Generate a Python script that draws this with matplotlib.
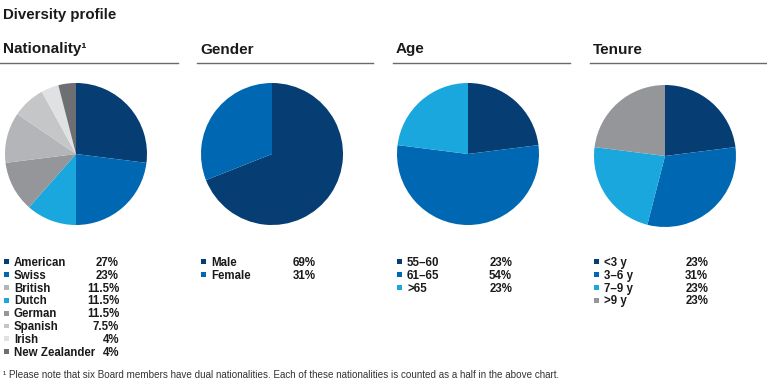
import matplotlib
matplotlib.use("Agg")
import matplotlib.pyplot as plt
from matplotlib.patches import Rectangle

plt.rcParams['font.family'] = ['Liberation Sans', 'DejaVu Sans']

# ---- data ----
nat_labels = ["American", "Swiss", "British", "Dutch", "German", "Spanish", "Irish", "New Zealander"]
nat_values = [27, 23, 11.5, 11.5, 11.5, 7.5, 4, 4]
nat_pct = ["27%", "23%", "11.5%", "11.5%", "11.5%", "7.5%", "4%", "4%"]
nat_pie_order = ["American", "Swiss", "Dutch", "German", "British", "Spanish", "Irish", "New Zealander"]

gen_labels = ["Male", "Female"]
gen_values = [69, 31]
gen_pct = ["69%", "31%"]

age_labels = ["55–60", "61–65", ">65"]
age_values = [23, 54, 23]
age_pct = ["23%", "54%", "23%"]

ten_labels = ["<3 y", "3–6 y", "7–9 y", ">9 y"]
ten_values = [23, 31, 23, 23]
ten_pct = ["23%", "31%", "23%", "23%"]

# ---- colours ----
NAVY = "#063d73"
BLUE = "#0068b2"
LIGHT = "#1aa7dd"
nat_colors = {"American": NAVY, "Swiss": BLUE, "British": "#b3b5b8", "Dutch": LIGHT,
              "German": "#949699", "Spanish": "#c5c6c8", "Irish": "#e0e1e3",
              "New Zealander": "#6e6f72"}
gen_colors = [NAVY, BLUE]
age_colors = [NAVY, BLUE, LIGHT]
ten_colors = [NAVY, BLUE, LIGHT, "#949699"]

W, H = 767, 388
fig = plt.figure(figsize=(W / 100, H / 100), dpi=100)

def fx(x):
    return x / W

def fy(y):
    return 1 - y / H

TXT = "#1a1a1a"

fig.text(fx(3), fy(19.5), "Diversity profile", fontsize=10.8, fontweight="bold",
         color=TXT, va="baseline", ha="left")

panels = [
    ("Nationality¹", 0, 178, 76, 154,
     [nat_values[nat_labels.index(n)] for n in nat_pie_order],
     [nat_colors[n] for n in nat_pie_order],
     nat_labels, nat_pct, [nat_colors[n] for n in nat_labels], 4, 14, 119),
    ("Gender", 197, 373, 272, 154, gen_values, gen_colors,
     gen_labels, gen_pct, gen_colors, 201, 211, 316),
    ("Age", 393, 570, 468, 154, age_values, age_colors,
     age_labels, age_pct, age_colors, 397, 407, 512),
    ("Tenure", 590, 767, 665, 156, ten_values, ten_colors,
     ten_labels, ten_pct, ten_colors, 594, 604, 708),
]

R = 71
row0 = 265.8
dy = 12.86
sq = 4.8

for (title, lx0, lx1, cx, cy, vals, cols, labs, pcts, lcols, sqx, labx, pctx) in panels:
    fig.text(fx(lx0 + 3), fy(53.5), title, fontsize=11.0, fontweight="bold",
             color=TXT, va="baseline", ha="left")
    fig.add_artist(plt.Line2D([fx(lx0), fx(lx1)], [fy(62.5), fy(62.5)],
                              color="#6a6a6a", lw=1.0, transform=fig.transFigure))
    ax = fig.add_axes([fx(cx - R), fy(cy + R), 2 * R / W, 2 * R / H])
    ax.pie(vals, colors=cols, startangle=90, counterclock=False,
           wedgeprops=dict(linewidth=0))
    ax.set_xlim(-1, 1)
    ax.set_ylim(-1, 1)
    ax.set_aspect("auto")
    ax.axis("off")
    for i, (lab, pct, c) in enumerate(zip(labs, pcts, lcols)):
        yb = row0 + i * dy
        fig.add_artist(Rectangle((fx(sqx), fy(yb - 1.7)), sq / W, sq / H,
                                 transform=fig.transFigure, color=c, lw=0))
        fig.text(fx(labx), fy(yb), lab, fontsize=8.3, fontweight="bold",
                 color=TXT, va="baseline", ha="left")
        fig.text(fx(pctx), fy(yb), pct, fontsize=8.3, fontweight="bold",
                 color=TXT, va="baseline", ha="right")

fig.text(fx(3), fy(378.5),
         "¹ Please note that six Board members have dual nationalities. Each of these nationalities is counted as a half in the above chart.",
         fontsize=7.1, color="#333333", va="baseline", ha="left")

fig.savefig("out.png", dpi=100)
